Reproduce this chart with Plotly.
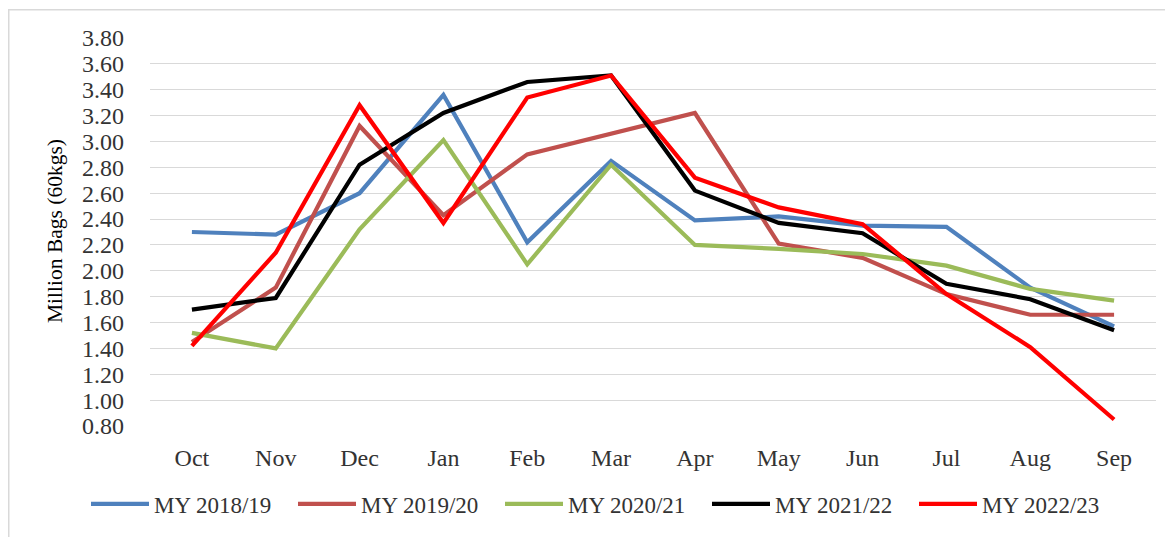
import plotly.graph_objects as go

months = ["Oct", "Nov", "Dec", "Jan", "Feb", "Mar", "Apr", "May", "Jun", "Jul", "Aug", "Sep"]
my_2018_19 = [2.30, 2.28, 2.60, 3.36, 2.22, 2.85, 2.39, 2.42, 2.35, 2.34, 1.87, 1.57]
my_2019_20 = [1.45, 1.87, 3.12, 2.43, 2.90, 3.06, 3.22, 2.21, 2.10, 1.82, 1.66, 1.66]
my_2020_21 = [1.52, 1.40, 2.32, 3.01, 2.05, 2.82, 2.20, 2.17, 2.13, 2.04, 1.86, 1.77]
my_2021_22 = [1.70, 1.79, 2.82, 3.22, 3.46, 3.51, 2.62, 2.37, 2.29, 1.90, 1.78, 1.54]
my_2022_23 = [1.42, 2.14, 3.28, 2.37, 3.34, 3.51, 2.72, 2.49, 2.36, 1.82, 1.41, 0.85]
y_ticks = [0.8, 1.0, 1.2, 1.4, 1.6, 1.8, 2.0, 2.2, 2.4, 2.6, 2.8, 3.0, 3.2, 3.4, 3.6, 3.8]
y_title = "Million Bags (60kgs)"

series = [
    ("MY 2018/19", my_2018_19, "#4f81bd"),
    ("MY 2019/20", my_2019_20, "#c0504d"),
    ("MY 2020/21", my_2020_21, "#9bbb59"),
    ("MY 2021/22", my_2021_22, "#000000"),
    ("MY 2022/23", my_2022_23, "#ff0000"),
]

fig = go.Figure()
for name, vals, color in series:
    fig.add_trace(go.Scatter(x=months, y=vals, mode="lines", name=name,
                             line=dict(color=color, width=4.2)))

# the page body adds an 8px offset; figure coords = page coords - 8
OFF = 8
W, H = 1173 - OFF, 537 - OFF
ml, mt = 150 - OFF, 38 - OFF
plot_r, plot_b = 1156 - OFF, 426 - OFF
mr, mb = W - plot_r, H - plot_b
pw, ph = plot_r - ml, plot_b - mt
FONT = "Liberation Serif, Times New Roman, serif"
TXT = "#333333"


def px_x(page_x):
    return (page_x - OFF - ml) / pw


def px_y(page_y):
    return (plot_b - (page_y - OFF)) / ph


fig.update_layout(
    width=W, height=H,
    margin=dict(l=ml, r=mr, t=mt, b=mb),
    paper_bgcolor="white", plot_bgcolor="white",
    font=dict(family=FONT, size=24, color=TXT),
    showlegend=True,
    legend=dict(orientation="h", x=px_x(86), xanchor="left", y=px_y(504),
                yanchor="middle", font=dict(size=23, color=TXT),
                entrywidth=134, itemwidth=58, tracegroupgap=0,
                bgcolor="rgba(0,0,0,0)"),
    xaxis=dict(showgrid=False, showline=False, zeroline=False, ticks="",
               range=[-0.5, 11.5], automargin=False,
               ticklabelstandoff=15, tickfont=dict(size=24, color=TXT)),
    yaxis=dict(range=[0.8, 3.8], tickvals=y_ticks, tickformat=".2f",
               showgrid=True, gridcolor="#d9d9d9", gridwidth=1.4,
               zeroline=False, showline=False, ticks="", ticklabelstandoff=25,
               automargin=False, tickfont=dict(size=24, color=TXT)),
    annotations=[dict(text=y_title, xref="paper", yref="paper",
                      x=px_x(55), y=px_y(231), xanchor="center", yanchor="middle",
                      textangle=-90, showarrow=False,
                      font=dict(family=FONT, size=21.5, color="#000000"))],
    shapes=[dict(type="rect", xref="paper", yref="paper",
                 x0=px_x(8.75), x1=px_x(1200),
                 y0=px_y(560), y1=px_y(9.75),
                 line=dict(color="#d9d9d9", width=1.5), fillcolor="rgba(0,0,0,0)",
                 layer="below")],
)

fig.write_html("out.html")
